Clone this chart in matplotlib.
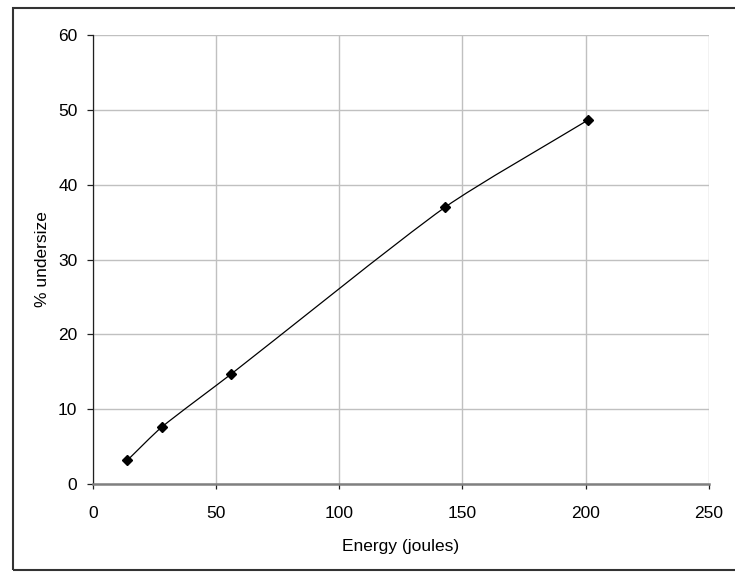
import numpy as np
import matplotlib
matplotlib.use('Agg')
import matplotlib.pyplot as plt
from matplotlib.path import Path
from matplotlib.patches import PathPatch, Rectangle

plt.rcParams['font.family'] = ['Liberation Sans', 'DejaVu Sans']

energy = [14, 28, 56, 143, 201]
undersize = [3.15, 7.6, 14.65, 37.0, 48.65]
x_ticks = [0, 50, 100, 150, 200, 250]
y_ticks = [0, 10, 20, 30, 40, 50, 60]


def smooth_path(xs, ys, sx, sy, k=0.22):
    # smoothed line like excel: bezier through every point,
    # handles worked out in screen units (sx, sy = px per data unit)
    pts = np.column_stack([np.array(xs) * sx, np.array(ys) * sy]).astype(float)
    n = len(pts)
    tang = []
    for i in range(n):
        d = pts[min(i + 1, n - 1)] - pts[max(i - 1, 0)]
        tang.append(d / np.hypot(*d))
    verts = [pts[0]]
    codes = [Path.MOVETO]
    for i in range(n - 1):
        L = np.hypot(*(pts[i + 1] - pts[i]))
        c1 = pts[i] + tang[i] * L * k
        c2 = pts[i + 1] - tang[i + 1] * L * k
        verts += [c1, c2, pts[i + 1]]
        codes += [Path.CURVE4] * 3
    verts = np.array(verts) / [sx, sy]
    return Path(verts, codes)


fig = plt.figure(figsize=(7.35, 5.83), dpi=100)
ax = fig.add_axes([92.7 / 735, 1 - 484 / 583, (709 - 92.7) / 735, (484 - 35) / 583])

px_x = (709 - 92.7) / 250
px_y = (484 - 35) / 60
ax.add_patch(PathPatch(smooth_path(energy, undersize, px_x, px_y), facecolor='none',
                       edgecolor='black', lw=0.9, zorder=3))
ax.plot(energy, undersize, linestyle='none', marker='D', ms=4.6,
        color='black', mec='black', zorder=4)

ax.set_xlim(0, 250)
ax.set_ylim(0, 60)
ax.set_xticks(x_ticks)
ax.set_yticks(y_ticks)
ax.grid(True, color='#c0c0c0', lw=1.0)
ax.set_axisbelow(True)
for s in ['top', 'right']:
    ax.spines[s].set_visible(False)
ax.spines['left'].set_color('#202020')
ax.spines['left'].set_linewidth(0.9)
ax.spines['bottom'].set_color('#808080')
ax.spines['bottom'].set_linewidth(1.8)
ax.tick_params(axis='y', length=4, width=0.9, color='#202020', pad=7, labelsize=12.5)
ax.tick_params(axis='x', length=3.5, width=0.9, color='#202020', pad=12, labelsize=12.5)

ax.set_xlabel('Energy (joules)', fontsize=12.5, labelpad=13)
ax.set_ylabel('% undersize', fontsize=12.5, labelpad=6)

# outer chart border
fig.patches.append(Rectangle((13 / 735, 1 - 570 / 583), 1.0, (570 - 8) / 583,
                             transform=fig.transFigure, fill=False,
                             edgecolor='#333333', lw=1.5))

fig.savefig('out.png', dpi=100)
